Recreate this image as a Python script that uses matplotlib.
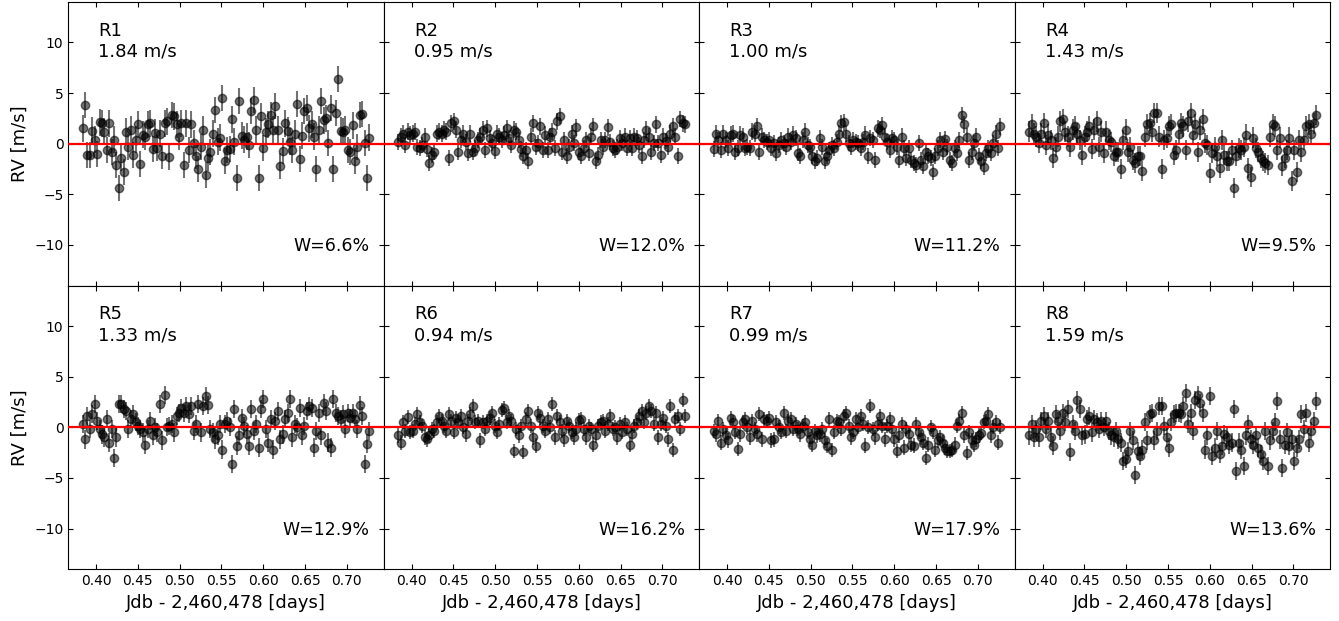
import matplotlib
matplotlib.use('Agg')
import matplotlib.pyplot as plt

# observation times (Jdb - 2,460,478), shared by all the regions
times = [0.3840, 0.3869, 0.3898, 0.3926, 0.3955, 0.3984, 0.4013, 0.4042, 0.4071, 0.4099,
         0.4128, 0.4157, 0.4186, 0.4215, 0.4243, 0.4272, 0.4301, 0.4330, 0.4359, 0.4388,
         0.4416, 0.4445, 0.4474, 0.4503, 0.4532, 0.4561, 0.4589, 0.4618, 0.4647, 0.4676,
         0.4705, 0.4733, 0.4762, 0.4791, 0.4820, 0.4849, 0.4878, 0.4906, 0.4935, 0.4964,
         0.4993, 0.5022, 0.5050, 0.5079, 0.5108, 0.5137, 0.5166, 0.5195, 0.5223, 0.5252,
         0.5281, 0.5310, 0.5339, 0.5367, 0.5396, 0.5425, 0.5454, 0.5483, 0.5512, 0.5540,
         0.5569, 0.5598, 0.5627, 0.5656, 0.5684, 0.5713, 0.5742, 0.5771, 0.5800, 0.5829,
         0.5858, 0.5886, 0.5915, 0.5944, 0.5973, 0.6002, 0.6030, 0.6059, 0.6088, 0.6117,
         0.6146, 0.6175, 0.6203, 0.6232, 0.6261, 0.6290, 0.6319, 0.6347, 0.6376, 0.6405,
         0.6434, 0.6463, 0.6492, 0.6520, 0.6549, 0.6578, 0.6607, 0.6636, 0.6664, 0.6693,
         0.6722, 0.6751, 0.6780, 0.6809, 0.6837, 0.6866, 0.6895, 0.6924, 0.6953, 0.6981,
         0.7010, 0.7039, 0.7068, 0.7097, 0.7126, 0.7154, 0.7183, 0.7212, 0.7241, 0.7270]

rv_r1 = [1.5, 3.8, -1.1, -1.1, 1.3, 0.4, -1.0, 2.1, 2.0, 1.2,
         -0.6, 2.0, -0.8, 0.4, -2.1, -4.4, -1.4, -2.8, 1.2, -0.3,
         1.4, -1.1, 0.4, 1.9, -2.0, 0.9, 0.7, 1.9, 2.0, -0.5,
         1.1, -0.4, 1.0, -1.2, 2.0, 2.2, -1.3, 2.8, 2.7, 1.9,
         0.7, 2.0, -2.1, 2.0, -0.6, 1.9, 0.1, -1.2, -2.5, -0.3,
         1.4, -3.1, -1.4, -0.8, 1.0, 3.3, 0.2, 0.6, 4.5, -1.7,
         -0.6, -0.5, 2.4, 0.2, -3.4, 4.2, 0.8, 0.4, 0.7, -0.1,
         3.2, 4.3, 1.4, -3.4, 2.7, -0.4, 1.2, 1.9, 2.8, 1.4,
         3.7, 1.4, -2.2, -0.7, 2.0, 1.3, 0.2, -0.6, 1.0, 3.9,
         -1.5, 0.8, 3.2, 3.5, 1.5, 1.9, 0.7, -2.5, 1.4, 4.2,
         2.3, 2.5, 0.1, 3.5, -2.5, 3.0, 6.4, 1.3, 1.2, 1.4,
         -0.6, -0.8, 1.8, -1.7, -0.3, 2.8, 2.9, 0.1, -3.4, 0.6]

rv_r2 = [0.2, 0.7, 1.0, -0.1, 1.2, 0.9, 1.0, 1.2, -0.3, -0.4,
         -0.1, 0.7, -0.5, -1.9, -1.1, -0.8, 1.0, 1.2, 1.0, 1.4,
         1.2, -1.4, 2.0, 2.2, 1.4, -0.8, 0.4, 1.0, 0.2, -0.9,
         1.0, -0.8, -0.4, 0.4, 0.7, 1.4, -0.6, 1.5, 0.6, 0.1,
         -0.7, 1.0, 0.7, 0.4, 0.9, 1.5, 0.6, -0.1, 1.4, 1.2,
         0.4, -0.5, -1.2, -0.6, -1.7, 0.7, 2.0, -0.3, 0.1, 1.7,
         -0.6, 0.9, -0.6, 0.7, 1.2, -0.4, 2.2, 2.7, -0.8, 0.4,
         -1.2, -0.3, 1.0, 0.1, 1.6, -0.8, -1.2, -0.4, 0.4, -0.9,
         0.7, 1.7, -1.7, -1.1, 0.4, -0.3, 0.4, 1.6, 0.2, -0.4,
         -0.6, -0.3, 0.6, 0.1, 0.7, -0.4, 0.6, -0.4, 0.7, 0.6,
         -0.1, -1.2, 0.4, 1.4, 0.7, -0.8, 0.1, 1.9, 0.1, -1.1,
         0.7, 0.3, -0.3, 1.0, 1.7, 0.7, -1.2, 2.4, 2.0, 1.9]

rv_r3 = [-0.5, 1.0, 0.4, -0.6, 1.0, 0.4, -0.4, 0.9, 1.0, -0.8,
         -0.4, 0.9, 0.7, -0.4, -0.3, -0.4, 1.2, 1.0, 1.7, -0.8,
         0.7, 0.4, 0.2, 0.4, -0.4, 0.1, -0.9, -0.1, 0.4, 0.1,
         -0.3, 0.7, 0.2, 0.9, 0.6, -0.9, -1.2, 0.4, 1.2, -0.1,
         -0.3, -1.2, -1.7, -1.4, 0.6, -0.3, -1.7, -1.2, -0.6, -0.1,
         -0.4, 0.2, 1.0, 2.0, 2.1, 1.0, 0.1, -0.3, 0.4, 0.2,
         0.1, -0.4, 0.2, 0.9, -1.2, 0.6, 0.4, -1.6, 1.5, 1.4,
         1.8, 0.7, 0.2, -0.6, 0.6, 0.4, -0.3, -1.6, 0.7, -0.4,
         -1.4, -0.4, -1.6, -1.9, -2.1, 0.1, -1.6, -2.2, -0.8, -1.2,
         -1.4, -2.8, -1.2, -0.4, 0.4, -0.8, 0.5, -0.3, -1.6, -1.9,
         -0.4, -0.9, 0.4, 2.8, 1.9, 0.7, -1.6, -0.8, 0.1, 0.7,
         -1.2, -1.7, -2.3, -0.9, -0.4, -0.9, 0.1, 1.0, -0.4, 1.7]

rv_r4 = [1.2, 1.9, 1.0, 0.7, 0.1, 1.0, 2.0, -0.1, 0.9, 0.4,
         -1.4, -0.3, 0.7, 2.2, 2.4, 1.2, 0.7, -0.3, 1.4, 1.7,
         1.0, 0.4, -1.1, 0.7, 1.2, 1.7, -0.5, 1.4, 2.2, -0.3,
         1.2, -0.9, 1.2, 0.4, 0.2, -1.2, -0.8, -0.8, -2.5, 0.4,
         1.4, -0.8, -0.3, -1.6, -1.9, -1.2, -1.2, -2.7, 0.7, 1.9,
         2.0, 1.2, 3.0, 3.0, 0.7, -2.5, 0.4, 0.6, 1.7, 1.9,
         -1.1, -0.6, 1.0, 2.0, 1.7, -0.6, 2.2, 3.0, 0.9, 1.9,
         -0.8, 1.4, 2.4, 0.1, -0.1, -2.9, -0.9, -0.3, -1.2, -2.4,
         0.4, -1.1, -1.7, -1.7, -0.6, -4.4, -1.2, -0.4, -0.6, -0.3,
         0.9, -2.4, -3.3, 0.6, -0.4, -0.8, -1.4, -1.7, -1.9, -2.1,
         0.7, 1.9, 1.7, -0.6, 0.6, -2.2, -1.4, -0.6, 0.6, -3.7,
         -0.6, -2.8, 0.4, -0.8, 0.4, 1.7, 1.9, 1.0, 2.0, 2.8]

rv_r5 = [0.3, -1.2, 1.1, -0.2, 1.3, 2.3, 0.6, -0.2, -0.7, -1.0,
         0.8, -1.5, -0.2, -3.0, -1.0, 2.3, 2.3, 1.8, 1.6, -0.2,
         0.8, 1.3, 0.5, 0.1, -0.2, -0.5, -1.7, -0.2, 0.6, -0.8,
         0.0, -0.5, 2.3, -1.3, 3.2, 0.0, 0.1, 0.3, -0.5, 1.1,
         1.4, 1.9, 1.4, 2.1, 1.3, 2.1, -0.4, 0.3, 2.3, -0.5,
         2.1, 3.1, 2.2, -0.2, -0.5, -1.2, -0.8, 0.3, -2.2, 0.3,
         0.6, 0.0, -3.6, 1.8, -1.8, -0.8, 0.9, 0.1, -0.7, -1.8,
         1.8, -0.4, 0.3, -2.0, 1.8, 2.8, -0.2, -1.5, 0.8, -2.2,
         0.6, 1.6, -1.2, -0.7, 0.8, 1.4, 2.8, -1.0, 0.3, 0.0,
         1.9, -0.8, 0.1, 1.6, 2.1, 1.9, -2.0, -0.4, 1.4, -0.8,
         2.4, 1.6, -1.5, -2.0, 2.8, 1.4, 1.1, 0.8, 1.3, -0.2,
         1.4, 0.9, 1.4, 0.8, -0.2, 2.2, 1.1, -3.6, -1.6, -0.4]

rv_r6 = [-0.8, -1.5, 0.5, -0.4, 1.0, -0.5, -0.4, 0.3, 1.3, 0.5,
         0.1, -1.0, -1.2, -0.8, -0.2, -0.4, 0.5, 1.1, 0.6, 0.1,
         -0.4, 1.3, 0.6, -0.5, 0.9, 0.5, 1.1, 0.0, -0.7, 0.6,
         1.3, 2.1, 0.5, 0.6, -1.3, 0.5, -0.2, 0.6, 0.9, 1.4,
         0.1, -0.5, 0.3, 1.7, 1.9, 0.5, 1.1, 0.6, -2.3, -0.2,
         -0.8, 0.1, -2.4, 0.8, 1.6, 0.1, -1.0, -1.8, 1.4, 0.9,
         0.1, -0.4, 0.8, 0.0, 2.3, -1.0, 1.1, 0.5, -0.4, -1.2,
         0.6, 0.1, -0.5, -1.0, -0.2, 0.7, 0.8, -0.2, -1.0, 0.1,
         -0.2, -1.7, -0.8, 0.1, 0.5, 0.6, -0.4, 0.3, 1.1, -0.2,
         0.0, -1.0, 0.3, -0.5, 0.5, -0.2, -1.7, -0.7, 0.1, 0.5,
         1.1, 1.6, 0.5, 1.4, 2.1, 1.6, 0.3, 1.4, -1.0, 0.3,
         0.9, 0.1, -1.2, 2.1, -2.2, 0.8, 1.1, -0.2, 2.7, 1.1]

rv_r7 = [-0.4, -0.7, 0.6, -1.5, -0.2, -0.8, -1.3, 0.9, 0.5, -0.5,
         -2.1, -0.7, 0.5, 0.8, 0.0, -1.0, 0.6, -0.2, -0.7, 1.3,
         -1.2, 0.8, 0.6, 0.9, -1.3, -1.2, 0.5, 0.0, -0.5, 1.4,
         -0.4, 0.6, 0.8, -0.2, 0.3, -0.2, -0.7, 0.1, 0.5, -0.5,
         -1.2, -1.7, -0.4, -0.8, -0.7, -0.2, -1.3, -1.8, 0.8, -2.2,
         -0.5, 0.6, 0.5, -0.2, 1.1, 1.4, 0.1, -1.0, -0.5, 0.8,
         0.0, 1.1, 0.3, -1.8, 0.0, 2.1, -0.2, -1.0, 0.3, 1.1,
         0.1, -1.2, 0.1, 0.8, -0.2, -1.2, -2.3, -0.8, 0.3, -2.0,
         -0.2, -0.7, -1.7, -1.8, 0.3, -0.5, -1.0, -1.5, -3.0, -1.7,
         0.0, -0.5, -2.2, -1.3, -1.0, -1.5, -2.0, -2.3, -2.3, -2.2,
         -1.7, 0.1, 0.6, 1.4, -0.8, -2.5, -0.5, -1.3, -1.7, -1.2,
         -0.8, -0.6, 0.5, 0.6, 1.3, -0.8, 0.0, 0.5, -1.5, 0.0]

rv_r8 = [-0.8, 0.3, -1.0, -0.2, -1.0, 0.6, 1.1, -0.2, 0.6, -1.0,
         -1.8, 1.3, 0.6, -0.4, 1.4, 0.5, 1.8, -2.4, 0.3, -0.4,
         2.7, 1.8, -0.8, -0.7, 0.8, 1.1, -0.5, 0.8, 0.5, -0.2,
         0.6, 0.0, 0.6, -0.4, -0.8, -1.0, -0.4, -1.2, -1.5, -3.3,
         -3.1, -2.3, -0.4, -1.3, -4.7, -2.3, -2.8, -2.2, 0.5, -1.3,
         1.3, 1.4, -1.3, -0.4, 2.1, 2.1, 0.1, -1.0, -2.0, 0.5,
         1.3, 1.4, 1.4, 1.3, 2.1, 3.4, 0.3, 1.4, -0.4, 2.7,
         3.2, 2.4, 1.4, -2.2, -0.8, 3.1, -2.8, -2.0, -0.4, -2.6,
         -1.8, -0.7, -1.0, -1.7, -1.5, 1.8, -4.3, -1.5, -2.2, -3.8,
         -0.8, 0.3, -1.2, -1.7, -0.8, -2.0, -2.6, -3.3, -0.4, -3.8,
         -1.3, -0.4, 0.5, 2.6, -1.2, -4.0, -1.7, -0.5, -1.8, -1.2,
         -3.3, -2.0, -1.2, 1.3, -0.2, 1.4, -1.5, -0.4, 0.6, 2.6]

regions = ['R1', 'R2', 'R3', 'R4', 'R5', 'R6', 'R7', 'R8']
rms = ['1.84', '0.95', '1.00', '1.43', '1.33', '0.94', '0.99', '1.59']
weights = ['6.6', '12.0', '11.2', '9.5', '12.9', '16.2', '17.9', '13.6']
rv_err = [1.3, 0.8, 0.8, 1.0, 0.9, 0.7, 0.7, 0.9]  # typical error bar per region
rv_all = [rv_r1, rv_r2, rv_r3, rv_r4, rv_r5, rv_r6, rv_r7, rv_r8]

fig, axes = plt.subplots(2, 4, sharex=True, sharey=True, figsize=(13.39, 6.21), dpi=100)
plt.subplots_adjust(left=0.051, right=0.9935, top=0.997, bottom=0.0835, wspace=0, hspace=0)

for i, ax in enumerate(axes.flat):
	ax.errorbar(times, rv_all[i], yerr=rv_err[i], fmt='o', color='k', ms=6,
		elinewidth=1.5, alpha=0.55, zorder=2)
	ax.axhline(0, color='red', lw=1.6, zorder=3)
	ax.text(0.095, 0.93, '{}\n{} m/s'.format(regions[i], rms[i]), transform=ax.transAxes,
		ha='left', va='top', fontsize=13)
	ax.text(0.955, 0.12, 'W={}%'.format(weights[i]), transform=ax.transAxes,
		ha='right', va='baseline', fontsize=12.5)
	ax.tick_params(direction='in', top=True, right=True, labelsize=10)
	if i % 4 == 0:
		ax.set_ylabel('RV [m/s]', fontsize=13)
	if i >= 4:
		ax.set_xlabel('Jdb - 2,460,478 [days]', fontsize=13)

ax.set_ylim(-14, 14)
ax.set_yticks([-10, -5, 0, 5, 10])
ax.set_xticks([0.40, 0.45, 0.50, 0.55, 0.60, 0.65, 0.70])

plt.savefig('out.png', dpi=100)
